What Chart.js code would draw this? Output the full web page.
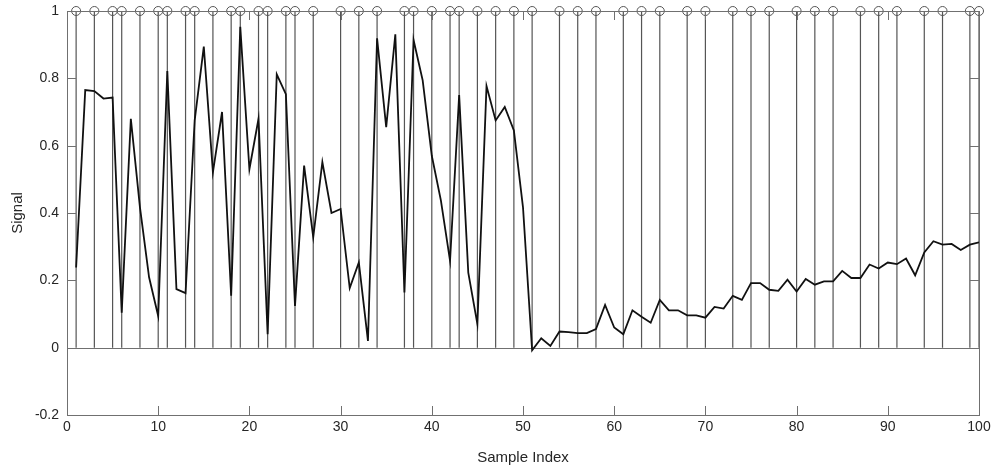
<!DOCTYPE html>
<html lang="en">
<head>
    <meta charset="UTF-8">
    <title>Signal vs Sample Index</title>
    <script src="https://cdn.jsdelivr.net/npm/chart.js"></script>
    <style>
        html, body { margin: 0; padding: 0; background: #fff; }
        #wrap { width: 995px; height: 469px; }
    </style>
</head>
<body>
    <div id="wrap"><canvas id="sigChart" width="995" height="469"></canvas></div>
    <script>
        // data
        const signal = [
            0.238, 0.765, 0.762, 0.740, 0.743, 0.104, 0.680, 0.417, 0.209, 0.094,
            0.822, 0.174, 0.162, 0.675, 0.894, 0.521, 0.700, 0.154, 0.953, 0.530,
            0.680, 0.040, 0.812, 0.753, 0.124, 0.541, 0.328, 0.551, 0.400, 0.412,
            0.177, 0.253, 0.020, 0.919, 0.655, 0.931, 0.164, 0.914, 0.794, 0.570,
            0.437, 0.258, 0.750, 0.223, 0.070, 0.777, 0.675, 0.715, 0.645, 0.417,
            -0.008, 0.028, 0.005, 0.048, 0.046, 0.043, 0.043, 0.055, 0.127, 0.060,
            0.040, 0.111, 0.092, 0.074, 0.142, 0.111, 0.111, 0.096, 0.096, 0.089,
            0.121, 0.116, 0.154, 0.142, 0.192, 0.192, 0.172, 0.169, 0.202, 0.167,
            0.204, 0.187, 0.197, 0.197, 0.228, 0.207, 0.207, 0.247, 0.235, 0.253,
            0.248, 0.265, 0.215, 0.283, 0.316, 0.306, 0.308, 0.290, 0.306, 0.313
        ];
        const stemIdx = [1, 3, 5, 6, 8, 10, 11, 13, 14, 16, 18, 19, 21, 22, 24, 25, 27, 30, 32, 34,
            37, 38, 40, 42, 43, 45, 47, 49, 51, 54, 56, 58, 61, 63, 65, 68, 70, 73, 75, 77,
            80, 82, 84, 87, 89, 91, 94, 96, 99, 100];
        const stemHeight = 1;
        const xTicks = [0, 10, 20, 30, 40, 50, 60, 70, 80, 90, 100];
        const yTicks = [-0.2, 0, 0.2, 0.4, 0.6, 0.8, 1];

        const txt = '#262626';
        const gray = '#707070';
        const fontFam = '"Liberation Sans", Arial, sans-serif';

        const sigPts = signal.map((v, i) => ({ x: i + 1, y: v }));
        const stemPts = [];
        stemIdx.forEach(s => {
            stemPts.push({ x: s, y: 0 }, { x: s, y: stemHeight }, { x: s, y: null });
        });
        const tipPts = stemIdx.map(s => ({ x: s, y: stemHeight }));

        // MATLAB style box: inward ticks on all four sides + stem baseline
        const boxPlugin = {
            id: 'box',
            beforeDatasetsDraw(chart) {
                const { ctx, chartArea: a, scales: { y } } = chart;
                ctx.save();
                ctx.strokeStyle = gray;
                ctx.lineWidth = 1;
                const y0 = Math.round(y.getPixelForValue(0)) + 0.5;
                ctx.beginPath();
                ctx.moveTo(a.left, y0);
                ctx.lineTo(a.right, y0);
                ctx.stroke();
                ctx.restore();
            },
            afterDraw(chart) {
                const { ctx, chartArea: a, scales: { x, y } } = chart;
                const t = 9;
                ctx.save();
                ctx.strokeStyle = gray;
                ctx.lineWidth = 1;
                ctx.strokeRect(Math.round(a.left) + 0.5, Math.round(a.top) + 0.5,
                    Math.round(a.right - a.left), Math.round(a.bottom - a.top));
                ctx.beginPath();
                xTicks.forEach(v => {
                    const px = Math.round(x.getPixelForValue(v)) + 0.5;
                    ctx.moveTo(px, a.bottom); ctx.lineTo(px, a.bottom - t);
                    ctx.moveTo(px, a.top); ctx.lineTo(px, a.top + t);
                });
                yTicks.forEach(v => {
                    const py = Math.round(y.getPixelForValue(v)) + 0.5;
                    ctx.moveTo(a.left, py); ctx.lineTo(a.left + t, py);
                    ctx.moveTo(a.right, py); ctx.lineTo(a.right - t, py);
                });
                ctx.stroke();
                ctx.restore();
            }
        };

        new Chart(document.getElementById('sigChart'), {
            type: 'line',
            data: {
                datasets: [
                    {
                        label: 'Signal',
                        data: sigPts,
                        borderColor: '#111',
                        borderWidth: 1.8,
                        pointRadius: 0,
                        tension: 0
                    },
                    {
                        label: 'Stems',
                        data: stemPts,
                        borderColor: '#555',
                        borderWidth: 1.2,
                        pointRadius: 0,
                        spanGaps: false
                    },
                    {
                        label: 'Tips',
                        data: tipPts,
                        showLine: false,
                        pointStyle: 'circle',
                        pointRadius: 4.5,
                        pointBorderWidth: 1,
                        pointBorderColor: '#555',
                        pointBackgroundColor: 'rgba(0,0,0,0)',
                        clip: false
                    }
                ]
            },
            options: {
                responsive: false,
                animation: false,
                layout: { padding: { left: 0, right: 16, top: 11, bottom: 0 } },
                plugins: { legend: { display: false }, tooltip: { enabled: false } },
                scales: {
                    x: {
                        type: 'linear',
                        min: 0,
                        max: 100,
                        afterBuildTicks: s => { s.ticks = xTicks.map(v => ({ value: v })); },
                        afterFit: s => { s.height = 54; s.paddingLeft = 0; s.paddingRight = 0; },
                        grid: { display: false, drawTicks: false },
                        border: { display: false },
                        ticks: {
                            color: txt,
                            padding: 4,
                            maxRotation: 0,
                            font: { family: fontFam, size: 14 },
                            callback: v => String(v)
                        },
                        title: {
                            display: true,
                            text: 'Sample Index',
                            color: txt,
                            padding: { top: 2, bottom: 2 },
                            font: { family: fontFam, size: 15 }
                        }
                    },
                    y: {
                        min: -0.2,
                        max: 1,
                        afterBuildTicks: s => { s.ticks = yTicks.map(v => ({ value: v })); },
                        afterFit: s => { s.width = 67; s.paddingTop = 0; s.paddingBottom = 0; },
                        grid: { display: false, drawTicks: false },
                        border: { display: false },
                        ticks: {
                            color: txt,
                            padding: 8,
                            font: { family: fontFam, size: 14 },
                            callback: v => String(Math.round(v * 10) / 10)
                        },
                        title: {
                            display: true,
                            text: 'Signal',
                            color: txt,
                            padding: { top: 9, bottom: 0 },
                            font: { family: fontFam, size: 15 }
                        }
                    }
                }
            },
            plugins: [boxPlugin]
        });
    </script>
</body>
</html>
